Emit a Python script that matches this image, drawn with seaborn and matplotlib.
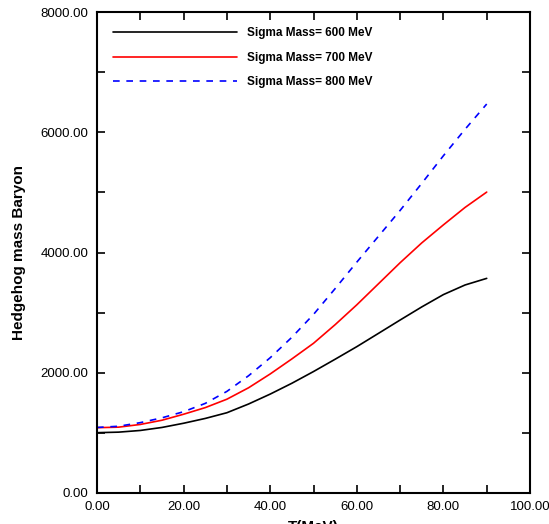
import pandas as pd
import seaborn as sns
import matplotlib.pyplot as plt
from matplotlib.ticker import MultipleLocator, FormatStrFormatter

# temperature (MeV)
T = [0, 5, 10, 15, 20, 25, 30, 35, 40, 45, 50, 55, 60, 65, 70, 75, 80, 85, 90]
# hedgehog baryon mass for each sigma mass
mass_600 = [1003, 1012, 1040, 1090, 1160, 1240, 1335, 1480, 1645, 1825, 2020, 2225,
            2434, 2655, 2877, 3095, 3300, 3460, 3570]
mass_700 = [1086, 1095, 1140, 1210, 1310, 1420, 1560, 1750, 1980, 2230, 2490, 2800,
            3130, 3480, 3830, 4160, 4460, 4750, 5005]
mass_800 = [1090, 1110, 1170, 1250, 1352, 1490, 1690, 1950, 2250, 2590, 2970, 3400,
            3840, 4270, 4700, 5150, 5610, 6050, 6470]
labels = ["Sigma Mass= 600 MeV", "Sigma Mass= 700 MeV", "Sigma Mass= 800 MeV"]

df = pd.DataFrame({"T": T * 3,
                   "mass": mass_600 + mass_700 + mass_800,
                   "series": [labels[0]] * len(T) + [labels[1]] * len(T) + [labels[2]] * len(T)})

sns.set_style("white")
plt.rcParams["font.family"] = ["Liberation Sans", "DejaVu Sans"]
plt.rcParams["text.color"] = "black"
plt.rcParams["axes.labelcolor"] = "black"

fig = plt.figure(figsize=(5.49, 5.24), dpi=100)
ax = fig.add_axes([0.1767, 0.0592, 0.7887, 0.9178])

colors = ["black", "red", "blue"]
styles = ["-", "-", (0, (4, 4))]
for lab, c, ls in zip(labels, colors, styles):
    sub = df[df["series"] == lab]
    sns.lineplot(data=sub, x="T", y="mass", color=c, linestyle=ls, linewidth=1.2,
                 ax=ax, label=lab)

ax.set_xlim(0, 100)
ax.set_ylim(0, 8000)
ax.xaxis.set_major_locator(MultipleLocator(20))
ax.xaxis.set_minor_locator(MultipleLocator(10))
ax.yaxis.set_major_locator(MultipleLocator(2000))
ax.yaxis.set_minor_locator(MultipleLocator(1000))
ax.xaxis.set_major_formatter(FormatStrFormatter("%.2f"))
ax.yaxis.set_major_formatter(FormatStrFormatter("%.2f"))
ax.tick_params(which="both", direction="in", length=6, width=1.2, top=True, right=True,
               bottom=True, left=True, labelsize=9.5, colors="black")
ax.tick_params(axis="x", pad=6)
ax.tick_params(axis="y", pad=6)
for s in ax.spines.values():
    s.set_color("black")
    s.set_linewidth(1.5)

ax.set_ylabel("Hedgehog mass Baryon", fontsize=11, fontweight="bold", labelpad=11,
              color="black")
ax.set_xlabel("T(MeV)", fontsize=11, fontweight="bold", labelpad=5, color="black")

leg = ax.legend(loc="upper left", bbox_to_anchor=(0.012, 0.99), frameon=False,
                handlelength=10.5, handletextpad=0.9, labelspacing=1.05,
                prop={"size": 8.5, "weight": "bold"})
for t in leg.get_texts():
    t.set_color("black")

fig.savefig("out.png", dpi=100)
